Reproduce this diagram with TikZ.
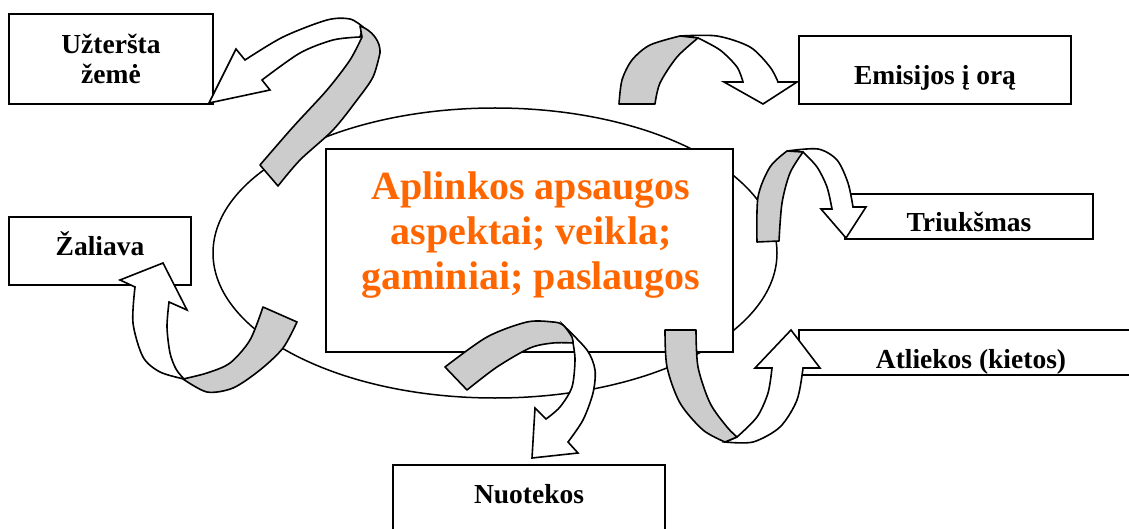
\documentclass[tikz,border=0pt]{standalone}
\usepackage{fontspec}
\setmainfont{Liberation Serif}
\definecolor{ribbon}{RGB}{204,204,204}
\definecolor{corecolor}{RGB}{255,102,0}
\begin{document}
\begin{tikzpicture}[x=1pt,y=-1pt,
  labelbox/.style={draw, line width=1.8pt, fill=white, inner sep=0pt,
    font=\fontsize{27.5pt}{30pt}\selectfont\bfseries, align=center},
  band/.style={draw, line width=1.6pt, line join=round, fill=ribbon},
  shaft/.style={draw, line width=1.6pt, line join=miter, fill=white},
]
\useasboundingbox (0,0) rectangle (1129,529);
\clip (0,0) rectangle (1129,529);

% ring around the core
\draw[line width=1.5pt] (495,253) ellipse [x radius=282pt, y radius=145pt];

% core box and its text
\node[draw, line width=1.8pt, fill=white, minimum width=407pt, minimum height=203pt] (core) at (529.5,250.5) {};
\node[font=\fontsize{40pt}{45pt}\selectfont\bfseries, text=corecolor, align=center, inner sep=0pt]
  (coretext) at (531,235.5) {Aplinkos apsaugos\\aspektai; veikla;\\gaminiai; paslaugos};

% outer boxes
\node[labelbox, minimum width=204pt, minimum height=90pt] (zeme) at (111,59) {Užteršta\\žemė};
\node[labelbox, minimum width=182pt, minimum height=68pt, text height=16pt, text depth=6pt] (zaliava) at (100,251) {Žaliava};
\node[labelbox, minimum width=272pt, minimum height=68pt, text height=36pt, text depth=6pt] (emisijos) at (935,70) {Emisijos į orą};
\node[labelbox, minimum width=248pt, minimum height=45pt, text height=37pt, text depth=6pt] (triuksmas) at (969,216.5) {Triukšmas};
\node[labelbox, minimum width=344pt, minimum height=45pt, text height=37pt, text depth=6pt] (atliekos) at (971,352.5) {Atliekos (kietos)};
\node[labelbox, minimum width=272pt, minimum height=76pt, text height=12pt, text depth=12pt] (nuotekos) at (529,503) {Nuotekos};

% curved arrow towards the polluted soil box
\filldraw[shaft] (209,103) -- (236,49) -- (245,60)
  -- plot[smooth] coordinates {(245,60) (283,37) (327,20) (350,19) (363,27)}
  -- (360,37)
  -- plot[smooth] coordinates {(360,37) (333,40) (300,53) (262,80)}
  -- (270,90) -- cycle;
\filldraw[band] (360,26) .. controls (372,30) and (381,42) .. (380,53)
  -- plot[smooth] coordinates {(380,53) (373,77) (357,100) (333,130) (300,160) (278,186)}
  -- (260,165)
  -- plot[smooth] coordinates {(260,165) (293,127) (327,90) (350,60) (362,37)}
  -- cycle;

% curved arrow towards the raw material box
\filldraw[shaft] (163,263) -- (187,310) -- (169,302)
  -- plot[smooth] coordinates {(169,302) (167,327) (170,353) (176,369) (184,379)}
  -- plot[smooth] coordinates {(184,379) (160,372) (143,357) (133,323) (135,287)}
  -- (120,280) -- cycle;
\filldraw[band] (183,379)
  -- plot[smooth] coordinates {(183,379) (207,373) (230,363) (250,340) (263,307)}
  -- (297,322)
  -- plot[smooth] coordinates {(297,322) (283,348) (260,370) (233,388) (207,392) (183,379)}
  -- cycle;

% curved arrow towards the air emissions box
\filldraw[shaft] (680,36)
  -- plot[smooth] coordinates {(680,36) (717,36) (750,47) (770,67) (778,82)}
  -- (797,82) -- (763,104) -- (724,82) -- (743,82)
  -- plot[smooth] coordinates {(743,82) (737,67) (720,50) (698,38)}
  -- cycle;
\filldraw[band] (619,104)
  -- plot[smooth] coordinates {(619,104) (622,80) (632,60) (650,45) (680,36)}
  -- (698,38)
  -- plot[smooth] coordinates {(698,38) (677,57) (660,83) (655,104)}
  -- cycle;

% curved arrow towards the noise box
\filldraw[shaft] (787,151)
  -- plot[smooth] coordinates {(787,151) (818,149) (837,160) (848,183) (853,207)}
  -- (866,207) -- (846,238) -- (821,209) -- (832,209)
  -- plot[smooth] coordinates {(832,209) (827,187) (817,167) (803,152)}
  -- cycle;
\filldraw[band] (757,242)
  -- plot[smooth] coordinates {(757,242) (758,197) (770,167) (787,151)}
  -- (803,152)
  -- plot[smooth] coordinates {(803,152) (790,173) (782,203) (779,241)}
  -- cycle;

% curved arrow towards the solid waste box
\filldraw[shaft] (725,442)
  -- plot[smooth] coordinates {(725,442) (753,442) (780,427) (797,400) (803,368)}
  -- (820,368) -- (791,330) -- (755,368) -- (772,368)
  -- plot[smooth] coordinates {(772,368) (768,393) (757,417) (737,437)}
  -- cycle;
\filldraw[band] (665,330) -- (696,330)
  -- plot[smooth] coordinates {(696,330) (698,367) (710,403) (727,427) (737,437)}
  -- (725,442)
  -- plot[smooth] coordinates {(725,442) (703,430) (680,403) (667,367) (665,330)}
  -- cycle;

% curved arrow towards the waste water box
\filldraw[shaft] (563,325)
  -- plot[smooth] coordinates {(563,325) (587,350) (595,370) (593,393) (583,420) (568,442)}
  -- (578,453) -- (532,458) -- (535,408) -- (546,419)
  -- plot[smooth] coordinates {(546,419) (560,407) (572,387) (575,360) (573,343)}
  -- cycle;
\filldraw[band] (445,367)
  -- plot[smooth] coordinates {(445,367) (487,337) (527,322) (553,322) (563,325) (572,337) (573,343)}
  -- plot[smooth] coordinates {(573,343) (553,343) (530,348) (497,367) (467,390)}
  -- cycle;
\end{tikzpicture}
\end{document}
